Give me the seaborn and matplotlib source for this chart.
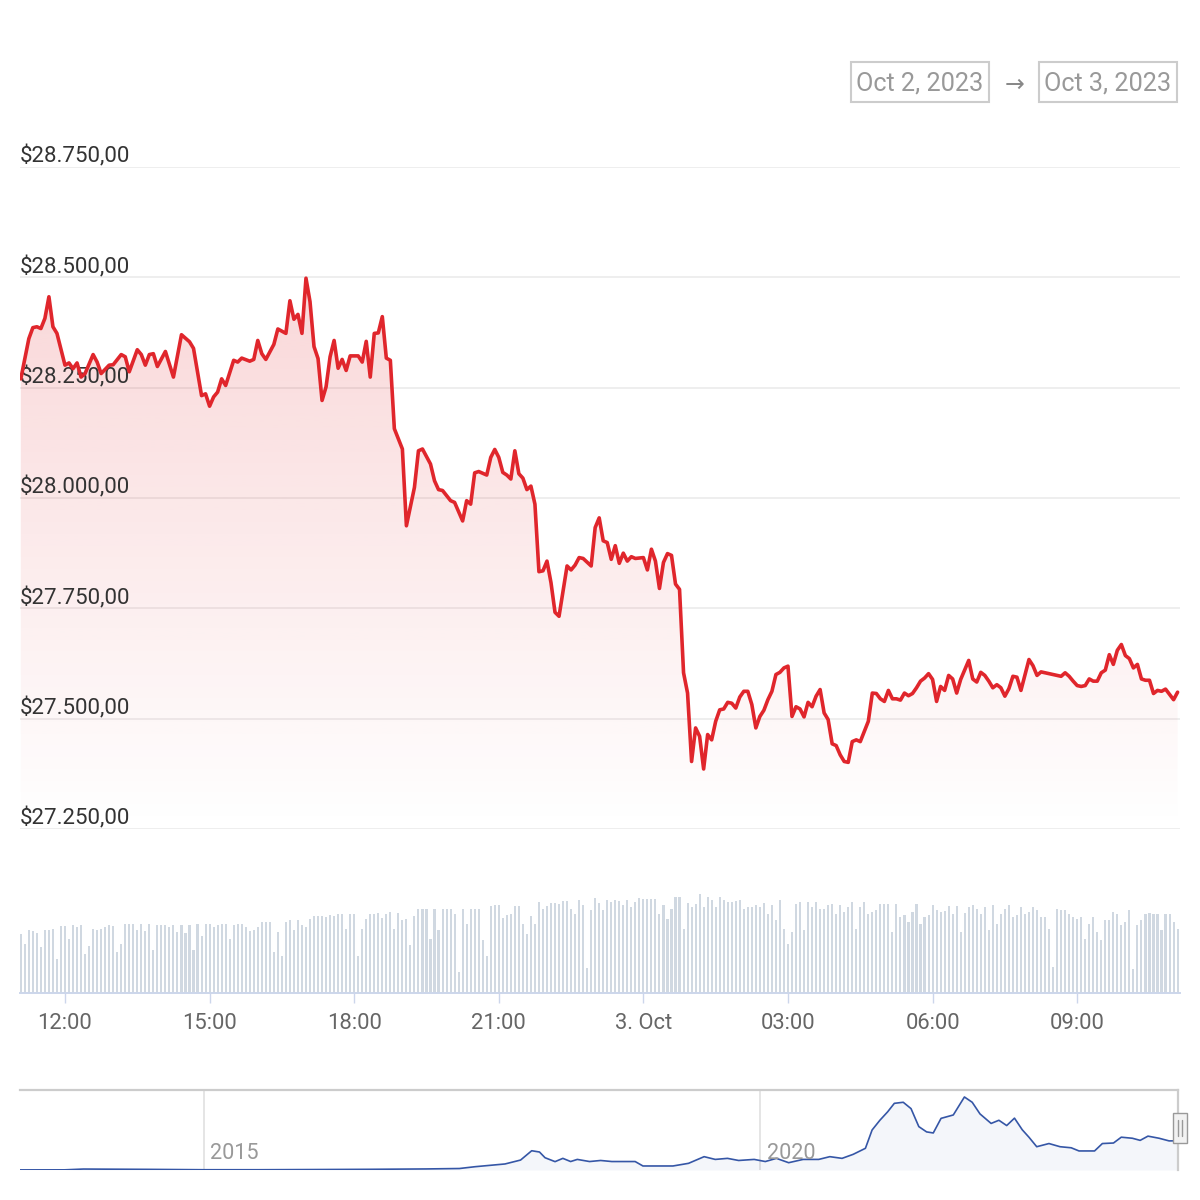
import numpy as np
import matplotlib
matplotlib.use("Agg")
import matplotlib.pyplot as plt
import seaborn as sns
from matplotlib.patches import Rectangle, Polygon
from matplotlib.colors import to_rgb
from matplotlib.transforms import blended_transform_factory

# ---------------- DATA ----------------
# minutes after 2023-10-02 11:05
price_minutes = [
    0, 10, 15, 20, 25, 30, 35, 40, 45, 55,
    60, 65, 70, 75, 80, 90, 95, 100, 110, 115,
    125, 130, 135, 145, 150, 155, 160, 165, 170, 180,
    190, 200, 210, 215, 225, 230, 235, 240, 245, 250,
    255, 265, 270, 275, 285,
    290, 295, 300, 305, 315, 320, 330, 335, 340, 345,
    350, 355, 360, 365, 370, 375, 380, 385, 390, 395,
    400, 405, 410, 420, 425, 430, 435, 440, 445, 450,
    455, 460, 465, 475, 480, 490, 495, 500, 510, 515,
    520, 525, 535, 540, 550, 555, 560, 565, 570,
    580, 585, 590, 595, 600, 605, 610, 615, 620, 625,
    630, 635, 640, 645, 650, 655, 660, 665, 670, 680,
    685, 690, 695, 700, 710, 715, 720, 725, 730, 735,
    740, 745, 750, 755, 760, 765, 775, 780, 785, 790,
    795, 800, 805, 810, 815, 820,
    825, 830, 835, 840, 845, 850, 855, 860, 865, 870,
    875, 880, 885, 890, 895, 900, 905, 910, 915, 920,
    925, 930, 935, 940, 945, 950, 955, 960, 965, 970,
    975, 980, 985, 990, 995, 1000, 1005, 1010, 1015, 1020,
    1025, 1030, 1035, 1040, 1045, 1050, 1055, 1060, 1065, 1070,
    1075, 1080, 1085, 1090, 1095, 1100, 1105, 1110, 1115,
    1120, 1125, 1130, 1135, 1140, 1145, 1150, 1155, 1160, 1165,
    1170, 1180, 1185, 1190, 1195, 1200, 1205, 1210, 1215, 1220,
    1225, 1230, 1235, 1240, 1245, 1255, 1260, 1265, 1270, 1275,
    1280, 1285, 1290, 1295, 1300, 1305, 1310, 1315, 1320, 1325,
    1330, 1335, 1340, 1345, 1350, 1355, 1360, 1365, 1370, 1375,
    1380, 1385, 1390, 1395, 1400, 1405, 1410, 1415, 1420, 1425,
    1430, 1435, 1440,
]
price_usd = [
    28270, 28361, 28386, 28388, 28384, 28407, 28456, 28388, 28373, 28301,
    28306, 28293, 28306, 28274, 28282, 28325, 28308, 28282, 28301, 28302,
    28325, 28320, 28286, 28336, 28325, 28301, 28325, 28327, 28298, 28332,
    28274, 28370, 28354, 28339, 28232, 28236, 28208, 28229, 28240, 28270,
    28255, 28312, 28308, 28317, 28310,
    28314, 28357, 28327, 28314, 28348, 28383, 28373, 28447, 28405, 28416,
    28373, 28498, 28445, 28343, 28316, 28221, 28252, 28320, 28357, 28294,
    28314, 28289, 28322, 28322, 28308, 28355, 28274, 28373, 28374, 28411,
    28317, 28312, 28157, 28111, 27937, 28024, 28107, 28111, 28077, 28039,
    28019, 28017, 27994, 27990, 27948, 27994, 27986, 28057, 28060,
    28052, 28092, 28110, 28092, 28058, 28052, 28043, 28107, 28055, 28045,
    28019, 28027, 27986, 27833, 27835, 27857, 27808, 27741, 27732, 27846,
    27837, 27848, 27865, 27863, 27846, 27933, 27955, 27903, 27899, 27861,
    27892, 27852, 27875, 27857, 27867, 27863, 27865, 27837, 27884, 27857,
    27795, 27854, 27874, 27870, 27805, 27793,
    27604, 27558, 27403, 27479, 27460, 27386, 27464, 27452, 27494, 27520,
    27522, 27537, 27535, 27524, 27549, 27562, 27562, 27532, 27479, 27505,
    27519, 27543, 27562, 27600, 27605, 27615, 27619, 27505, 27527, 27522,
    27504, 27537, 27527, 27551, 27566, 27513, 27498, 27443, 27439, 27418,
    27403, 27401, 27448, 27452, 27448, 27471, 27494, 27558, 27557, 27545,
    27539, 27564, 27545, 27545, 27542, 27558, 27552, 27557, 27570,
    27585, 27592, 27602, 27589, 27539, 27573, 27564, 27598, 27590, 27558,
    27589, 27632, 27590, 27583, 27605, 27598, 27585, 27570, 27577, 27570,
    27551, 27568, 27596, 27594, 27564, 27634, 27620, 27598, 27606, 27604,
    27602, 27600, 27598, 27596, 27604, 27596, 27585, 27575, 27573, 27575,
    27590, 27585, 27585, 27604, 27610, 27645, 27623, 27655, 27668, 27643,
    27636, 27615, 27623, 27590, 27587, 27587, 27557, 27564, 27562, 27567,
    27555, 27543, 27560,
]

# 5-minute volume bars (million USD), first bar at 11:05
volume_musd = [
    59, 49, 63, 62, 60, 46, 63, 63, 64, 34,
    67, 67, 54, 68, 66, 68, 39, 47, 64, 63,
    64, 66, 68, 67, 41, 49, 69, 69, 69, 63,
    69, 62, 69, 43, 68, 68, 68, 66, 68, 61,
    68, 60, 68, 43, 69, 57, 69, 69, 66, 68,
    69, 69, 54, 68, 69, 69, 66, 62, 63, 66,
    71, 71, 71, 41, 61, 37, 71, 73, 63, 73,
    68, 66, 74, 77, 77, 77, 76, 78, 77, 79,
    79, 64, 79, 79, 37, 64, 74, 79, 79, 80,
    75, 79, 81, 64, 80, 73, 74, 48, 77, 84,
    84, 84, 54, 84, 63, 84, 84, 84, 79, 21,
    84, 69, 84, 84, 84, 53, 37, 87, 88, 88,
    75, 78, 79, 87, 87, 69, 59, 77, 69, 91,
    84, 87, 90, 90, 89, 92, 92, 84, 79, 93,
    88, 25, 83, 95, 90,
    83, 93, 91, 93, 92, 88, 93, 86, 91, 95,
    94, 94, 94, 94, 79, 88, 74, 84,
    96, 96, 64, 90, 86, 89, 99, 86, 96, 93,
    86, 96, 93, 91, 91, 92, 93, 84,
    86, 86, 88, 86, 90, 79, 88, 73, 93, 64,
    49, 61, 89, 91, 63, 91, 86, 91, 84, 84,
    88, 89, 79, 88, 81, 86, 91, 64, 86, 91,
    79, 81, 83, 89, 89, 89, 61, 89, 76, 78,
    71, 81, 89, 69, 76, 78, 88, 83, 81, 82,
    87, 79, 87, 61, 80, 86, 88, 84, 79, 86,
    63, 88, 69, 79, 84, 88, 76, 78, 86, 79,
    81, 86, 83, 76, 76, 64, 26, 84, 83, 83,
    79, 76, 74, 76, 54, 69, 76, 61, 53, 73,
    73, 81, 79, 68, 71, 83, 24, 68, 73, 79,
    80, 79, 79, 63, 79, 79, 71, 64,
]

time_tick_minutes = [55, 235, 415, 595, 775, 955, 1135, 1315]
time_tick_labels = ["12:00", "15:00", "18:00", "21:00", "3. Oct", "03:00", "06:00", "09:00"]
price_ticks = [27250, 27500, 27750, 28000, 28250, 28500, 28750]

nav_years = [
    2013.35, 2013.75, 2013.92, 2014.1, 2014.5, 2015.0, 2015.5, 2016.0, 2016.5, 2017.0,
    2017.30, 2017.44, 2017.71, 2017.85, 2017.95, 2018.02, 2018.07, 2018.16, 2018.23, 2018.30,
    2018.36, 2018.47, 2018.57, 2018.67, 2018.88, 2018.95, 2019.22, 2019.36, 2019.50, 2019.60,
    2019.71, 2019.81, 2019.95, 2020.05, 2020.15, 2020.26, 2020.39, 2020.53, 2020.63, 2020.74,
    2020.84, 2020.95, 2021.01, 2021.08, 2021.15, 2021.21, 2021.29, 2021.36, 2021.43, 2021.50,
    2021.56, 2021.63, 2021.74, 2021.84, 2021.91, 2021.98, 2022.08, 2022.15, 2022.22, 2022.29,
    2022.36, 2022.42, 2022.49, 2022.60, 2022.70, 2022.80, 2022.87, 2022.94, 2023.01, 2023.08,
    2023.18, 2023.25, 2023.35, 2023.42, 2023.49, 2023.59, 2023.68, 2023.76,
]
nav_price_k = [
    0.12, 0.15, 0.9, 0.8, 0.6, 0.25, 0.25, 0.43, 0.65, 1.0,
    1.4, 3.1, 5.7, 9.4, 18.2, 17.0, 11.6, 7.9, 11.0, 8.0,
    10.0, 8.0, 9.0, 8.0, 8.0, 3.8, 3.8, 6.3, 12.6, 10.0,
    11.0, 9.0, 10.0, 8.0, 11.0, 6.9, 10.0, 10.0, 12.6, 11.0,
    14.8, 20.5, 37.8, 47.0, 55.0, 63.0, 64.0, 58.0, 41.0, 36.0,
    35.0, 48.8, 52.0, 69.0, 64.0, 53.0, 44.0, 47.0, 42.0, 49.0,
    38.0, 31.0, 22.0, 25.0, 22.0, 21.0, 18.0, 18.0, 18.0, 25.0,
    25.5, 31.0, 30.0, 28.0, 32.0, 30.0, 27.5, 27.6,
]
nav_year_ticks = [2015, 2020]
range_start_label = "Oct 2, 2023"
range_end_label = "Oct 3, 2023"

# ---------------- STYLE ----------------
sns.set_theme(style="white")
plt.rcParams['font.family'] = ['Roboto', 'DejaVu Sans']

RED = "#e0262c"
BAR = "#d0d8e1"
AXIS = "#ccd6eb"
GRID = "#ebebeb"
NAVY = "#3556a6"

W = H = 1200
fig = plt.figure(figsize=(12, 12), dpi=100)
fig.patch.set_facecolor("white")


def axes_px(l, t, r, b):
    return fig.add_axes([l / W, 1 - b / H, (r - l) / W, (b - t) / H])


def fmt_price(v):
    s = f"{v:,.2f}"
    s = s.replace(",", "X").replace(".", ",").replace("X", ".")
    return "$" + s


XMIN, XMAX = -1, 1443

# ---------------- PRICE PANEL ----------------
ax = axes_px(20, 167, 1180, 829)
ax.set_facecolor("none")
sns.lineplot(x=price_minutes, y=price_usd, ax=ax, color=RED, linewidth=2.6,
             zorder=4, legend=False)

# gradient area under the line
n = 256
rgba = np.zeros((n, 1, 4))
rgba[..., :3] = to_rgb(RED)
rgba[:, 0, 3] = np.linspace(0.0, 0.22, n)
im = ax.imshow(rgba, extent=[XMIN, XMAX, price_ticks[0], price_ticks[-1]],
               origin="lower", aspect="auto", zorder=2, interpolation="bilinear")
verts = [(price_minutes[0], price_ticks[0])] + list(zip(price_minutes, price_usd)) + \
        [(price_minutes[-1], price_ticks[0])]
poly = Polygon(verts, closed=True, facecolor="none", edgecolor="none")
ax.add_patch(poly)
im.set_clip_path(poly)

ax.set_xlim(XMIN, XMAX)
ax.set_ylim(price_ticks[0], price_ticks[-1])
ax.set_yticks(price_ticks)
ax.set_xticks([])
ax.tick_params(axis="y", left=False, labelleft=False)
ax.grid(axis="y", color=GRID, linewidth=1.2, zorder=0)
ax.set_axisbelow(True)
for s in ax.spines.values():
    s.set_visible(False)
ax.set_xlabel("")
ax.set_ylabel("")

tr = blended_transform_factory(ax.transAxes, ax.transData)
for v in price_ticks:
    ax.annotate(fmt_price(v), xy=(0, v), xycoords=tr, xytext=(0, 3.0),
                textcoords="offset points", ha="left", va="baseline",
                fontsize=16.0, color="#333333", zorder=3, annotation_clip=False)

# ---------------- VOLUME PANEL ----------------
axv = axes_px(20, 880, 1180, 993)
axv.set_facecolor("none")
vol_minutes = [5 * i for i in range(len(volume_musd))]
sns.barplot(x=vol_minutes, y=volume_musd, native_scale=True, orient="x",
            width=0.52, color=BAR, saturation=1, errorbar=None, ax=axv,
            linewidth=0, zorder=2)
for p in axv.patches:
    p.set_antialiased(False)
    p.set_edgecolor("none")
axv.set_xlim(XMIN, XMAX)
axv.set_ylim(0, 113)
axv.set_yticks([])
axv.set_xticks(time_tick_minutes)
axv.set_xticklabels(time_tick_labels)
axv.tick_params(axis="x", bottom=True, length=7.2, width=1.0, color=AXIS,
                labelsize=15.8, labelcolor="#666666", pad=7.2)
for k, s in axv.spines.items():
    s.set_visible(k == "bottom")
axv.spines["bottom"].set_color(AXIS)
axv.spines["bottom"].set_linewidth(1.4)
axv.set_xlabel("")
axv.set_ylabel("")

# ---------------- NAVIGATOR ----------------
axn = axes_px(20, 1090, 1178, 1170)
axn.set_facecolor("none")
sns.lineplot(x=nav_years, y=nav_price_k, ax=axn, color=NAVY, linewidth=1.2,
             zorder=3, legend=False)
axn.fill_between(nav_years, nav_price_k, 0, color=NAVY, alpha=0.05, linewidth=0, zorder=2)
axn.set_xlim(nav_years[0], nav_years[-1])
axn.set_ylim(0, 75.6)
axn.set_xticks([])
axn.set_yticks([])
ntr = blended_transform_factory(axn.transData, axn.transAxes)
for yr in nav_year_ticks:
    axn.axvline(yr, color="#e0e0e0", linewidth=1.2, zorder=1)
    axn.annotate(f"{yr}", xy=(yr, 0.21), xycoords=ntr, xytext=(5, 0),
                 textcoords="offset points", ha="left", va="center",
                 fontsize=15.6, color="#999999", zorder=4)
for k, s in axn.spines.items():
    s.set_visible(k in ("top", "right"))
    s.set_color("#cccccc")
    s.set_linewidth(1.6)
axn.set_xlabel("")
axn.set_ylabel("")


def rect_px(x, y, w, h, **kw):
    r = Rectangle((x / W, 1 - (y + h) / H), w / W, h / H, transform=fig.transFigure, **kw)
    fig.patches.append(r)
    return r


# navigator handle (right)
rect_px(1173, 1113, 14, 30, facecolor="#f2f2f2", edgecolor="#999999", linewidth=1.0, zorder=5)
for xx in (1178, 1182):
    fig.add_artist(plt.Line2D([xx / W, xx / W], [1 - 1120 / H, 1 - 1136 / H],
                              transform=fig.transFigure, color="#999999", linewidth=1.0, zorder=6))

# ---------------- DATE RANGE BOXES ----------------
rect_px(851, 62, 138, 40, facecolor="white", edgecolor="#cccccc", linewidth=1.5)
rect_px(1039, 62, 138, 40, facecolor="white", edgecolor="#cccccc", linewidth=1.5)
fig.text(920 / W, 1 - 83 / H, range_start_label, ha="center", va="center",
         fontsize=18.2, color="#999999")
fig.text(1108 / W, 1 - 83 / H, range_end_label, ha="center", va="center",
         fontsize=18.2, color="#999999")
fig.text(1015 / W, 1 - 85 / H, "\u2192", ha="center", va="center",
         fontsize=17, color="#888888", family=["DejaVu Sans"])

fig.savefig("out.png", dpi=100, facecolor="white")
